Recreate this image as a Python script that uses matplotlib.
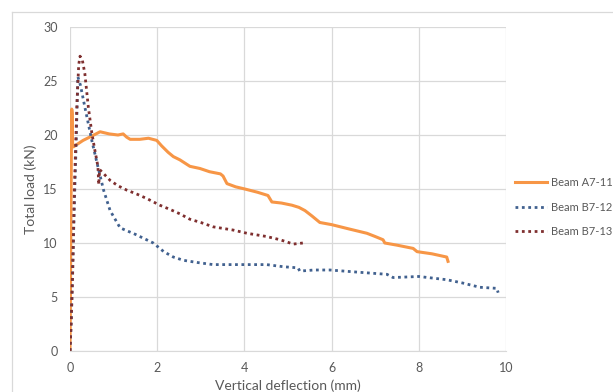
import numpy as np
import matplotlib
matplotlib.use("Agg")
from matplotlib import pyplot as plt
from matplotlib.lines import Line2D

# ----- data -----
a711_x = [0, 0.01, 0.02, 0.03, 0.04, 0.05, 0.06, 0.08, 0.15, 0.3, 0.5, 0.69, 0.9, 1.1, 1.22,
          1.3, 1.38, 1.6, 1.8, 1.99, 2.1, 2.25, 2.37, 2.52, 2.75, 2.98, 3.2, 3.45, 3.51, 3.6,
          3.8, 4.01, 4.3, 4.54, 4.63, 4.85, 5.09, 5.25, 5.39, 5.55, 5.73, 6.0, 6.4, 6.81, 7.0,
          7.18, 7.22, 7.5, 7.87, 7.96, 8.3, 8.64, 8.67]
a711_y = [0, 5, 12, 18, 22.4, 22.0, 19.0, 18.9, 19.1, 19.5, 19.9, 20.3, 20.1, 20.0, 20.1,
          19.8, 19.6, 19.6, 19.7, 19.5, 19.0, 18.4, 18.0, 17.7, 17.1, 16.9, 16.6, 16.4, 16.2, 15.5,
          15.2, 15.0, 14.7, 14.4, 13.8, 13.7, 13.5, 13.3, 13.0, 12.5, 11.9, 11.7, 11.3, 10.9, 10.6,
          10.3, 10.0, 9.8, 9.5, 9.2, 9.0, 8.7, 8.3]

b712_x = [0, 0.03, 0.05, 0.07, 0.09, 0.11, 0.14, 0.18, 0.24, 0.34, 0.5, 0.62, 0.77, 0.92, 1.15,
          1.5, 1.91, 2.15, 2.37, 2.6, 2.91, 3.28, 3.8, 4.51, 4.9, 5.23, 5.27, 5.6, 5.96, 6.6,
          7.27, 7.41, 8.0, 8.64, 9.0, 9.4, 9.79, 9.82]
b712_y = [0, 3, 6, 9, 12, 15, 19, 25.4, 24.6, 22.6, 19.5, 17.4, 14.9, 13.0, 11.4,
          10.8, 10.0, 9.2, 8.7, 8.4, 8.2, 8.0, 8.0, 8.0, 7.8, 7.7, 7.4, 7.5, 7.5, 7.3,
          7.1, 6.8, 6.9, 6.6, 6.3, 5.9, 5.8, 5.4]

b713_x = [0, 0.03, 0.06, 0.08, 0.1, 0.13, 0.16, 0.2, 0.23, 0.28, 0.34, 0.42, 0.5, 0.57, 0.64,
          0.66, 0.68, 0.8, 0.92, 1.1, 1.3, 1.55, 1.77, 2.06, 2.3, 2.52, 2.75, 3.0, 3.28, 3.74,
          4.06, 4.51, 4.82, 5.12, 5.34]
b713_y = [0, 3, 7, 11, 15, 19, 23, 26.5, 27.3, 27.0, 25.7, 22.6, 20.2, 18.6, 17.1,
          15.4, 16.8, 16.3, 15.8, 15.3, 14.9, 14.5, 14.1, 13.5, 13.1, 12.7, 12.2, 11.9, 11.5, 11.2,
          10.9, 10.6, 10.3, 9.9, 10.0]

x_ticks = [0, 2, 4, 6, 8, 10]
y_ticks = [0, 5, 10, 15, 20, 25, 30]

plt.rcParams['font.family'] = ['Lato', 'DejaVu Sans']
grey = '#595959'

fig = plt.figure(figsize=(6.13, 3.92), dpi=100)
ax = fig.add_axes([70/613, 1-351/392, 436/613, 324/392])

ax.plot(a711_x, a711_y, color='#f79646', lw=2.2, label='Beam A7-11')
ax.plot(b712_x, b712_y, color='#41618f', lw=2.0, ls=(0, (1, 1.3)), label='Beam B7-12')
ax.plot(b713_x, b713_y, color='#7f2f2f', lw=2.0, ls=(0, (1, 1.3)), label='Beam B7-13')

ax.set_xlim(0, 10)
ax.set_ylim(0, 30)
ax.set_xticks(x_ticks)
ax.set_yticks(y_ticks)
ax.grid(True, color='#d9d9d9', lw=0.9)
ax.set_axisbelow(True)
for s in ['top', 'right', 'left']:
	ax.spines[s].set_visible(False)
ax.spines['bottom'].set_color('#d9d9d9')
ax.tick_params(length=0, colors=grey, labelsize=9, pad=8)
ax.tick_params(axis='y', pad=9)
ax.set_xlabel('Vertical deflection (mm)', color=grey, fontsize=10, labelpad=3.5)
ax.set_ylabel('Total load (kN)', color=grey, fontsize=10, labelpad=4)

leg = ax.legend(loc='center left', bbox_to_anchor=(1.0, 0.444), frameon=False,
                fontsize=8, handlelength=2.9, handletextpad=0.35, labelspacing=1.2,
                borderaxespad=0.4)
for t in leg.get_texts():
	t.set_color(grey)

# outer chart frame
fig.add_artist(Line2D([12/613, 12/613], [0, 1-12/392], color='#d9d9d9', lw=0.9))
fig.add_artist(Line2D([12/613, 1], [1-12/392, 1-12/392], color='#d9d9d9', lw=0.9))

fig.savefig('out.png', dpi=100)
